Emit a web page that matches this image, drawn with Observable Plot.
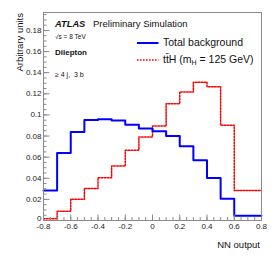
<!DOCTYPE html>
<html>
<head>
<meta charset="utf-8">
<script src="https://cdn.jsdelivr.net/npm/d3@7"></script>
<script src="https://cdn.jsdelivr.net/npm/@observablehq/plot@0.6"></script>
<style>
  html, body { margin: 0; padding: 0; background: #fff; }
  #wrap { position: relative; width: 274px; height: 263px; font-family: "Liberation Sans", Arial, sans-serif; }
  #overlay { position: absolute; left: 0; top: 0; pointer-events: none; }
</style>
</head>
<body>
<div id="wrap"></div>
<script>
// Bin left edges of the NN output histogram (width 0.1)
const binEdges = [-0.8, -0.7, -0.6, -0.5, -0.4, -0.3, -0.2, -0.1, 0.0, 0.1, 0.2, 0.3, 0.4, 0.5, 0.6, 0.7, 0.8];
// Total background (normalised)
const background = [0.0285, 0.064, 0.0839, 0.0951, 0.096, 0.0948, 0.0906, 0.0872, 0.0846, 0.0801, 0.0703, 0.057, 0.0402, 0.0206, 0.0045, 0.0045];
// ttH signal (normalised)
const signal = [0.0016, 0.0088, 0.0202, 0.0304, 0.0406, 0.0516, 0.0665, 0.0792, 0.0894, 0.1106, 0.1217, 0.1309, 0.1267, 0.0903, 0.0285, 0.0285];
// Axis ticks
const xMajor = [-0.8, -0.6, -0.4, -0.2, 0, 0.2, 0.4, 0.6, 0.8];
const xMinor = d3.range(-16, 17).map(i => i * 0.05);
const yMajor = [0, 0.02, 0.04, 0.06, 0.08, 0.1, 0.12, 0.14, 0.16, 0.18];
const yMinor = d3.range(0, 40).map(i => i * 0.005);

function steps(values) {
  const pts = values.map((v, i) => ({x: binEdges[i], y: v}));
  pts.push({x: binEdges[binEdges.length - 1], y: values[values.length - 1]});
  return pts;
}
const fmt = d => String(+d.toFixed(2));
const grey = "#8a8a8a";

const plot = Plot.plot({
  width: 274,
  height: 263,
  marginLeft: 43,
  marginRight: 13,
  marginTop: 12,
  marginBottom: 43,
  style: {background: "#fff", fontFamily: "Liberation Sans, Arial, sans-serif", color: "#222"},
  x: {domain: [-0.8, 0.8]},
  y: {domain: [0, 0.197]},
  marks: [
    Plot.line(steps(signal), {x: "x", y: "y", curve: "step-after", stroke: "#ff0000", strokeWidth: 1.5, strokeDasharray: "1.6,1.4"}),
    Plot.line(steps(background), {x: "x", y: "y", curve: "step-after", stroke: "#0000ff", strokeWidth: 2}),
    Plot.axisX({ticks: xMinor, tickSize: -3, tickFormat: () => "", stroke: grey, label: null}),
    Plot.axisX({ticks: xMajor, tickSize: -5.5, tickFormat: () => "", stroke: grey, label: null}),
    Plot.axisX({ticks: xMajor, tickSize: 0, tickPadding: 3, tickFormat: fmt, fontSize: 8, label: null}),
    Plot.axisY({ticks: yMinor, tickSize: -3.5, tickFormat: () => "", stroke: grey, label: null}),
    Plot.axisY({ticks: yMajor, tickSize: -6.5, tickFormat: () => "", stroke: grey, label: null}),
    Plot.axisY({ticks: yMajor.filter(d => d > 0), tickSize: 0, tickPadding: 2, tickFormat: fmt, fontSize: 8, label: null}),
    Plot.axisY({ticks: [0], tickSize: 0, tickPadding: 2, tickFormat: fmt, fontSize: 8, label: null, dy: -2}),
    Plot.frame({stroke: grey})
  ]
});
document.getElementById("wrap").appendChild(plot);

const ns = "http://www.w3.org/2000/svg";
const overlay = `
<svg id="overlay" xmlns="${ns}" width="274" height="263" font-family="Liberation Sans, Arial, sans-serif" fill="#111">
  <text x="23" y="13" transform="rotate(-90 23 13)" text-anchor="end" font-size="9.5">Arbitrary units</text>
  <text x="260" y="248" text-anchor="end" font-size="9.5">NN output</text>
  <text x="55" y="27" font-size="9.3" font-weight="bold" font-style="italic">ATLAS</text>
  <text x="93" y="27" font-size="9.5">Preliminary Simulation</text>
  <text x="55" y="38.5" font-size="6.5">√s = 8 TeV</text>
  <text x="55" y="55" font-size="8" font-weight="bold">Dilepton</text>
  <text x="55" y="77" font-size="7" xml:space="preserve">≥ 4 j,  3 b</text>
  <line x1="137" x2="158.5" y1="43" y2="43" stroke="#0000ff" stroke-width="2"/>
  <text x="163" y="45.5" font-size="10.5">Total background</text>
  <line x1="137" x2="158.5" y1="60" y2="60" stroke="#ff0000" stroke-width="1.5" stroke-dasharray="1.6,1.4"/>
  <text x="163" y="62.5" font-size="10.5">tt̄H (m<tspan font-size="7" dy="2.5">H</tspan><tspan dy="-2.5"> = 125 GeV)</tspan></text>
</svg>`;
document.getElementById("wrap").insertAdjacentHTML("beforeend", overlay);
</script>
</body>
</html>
